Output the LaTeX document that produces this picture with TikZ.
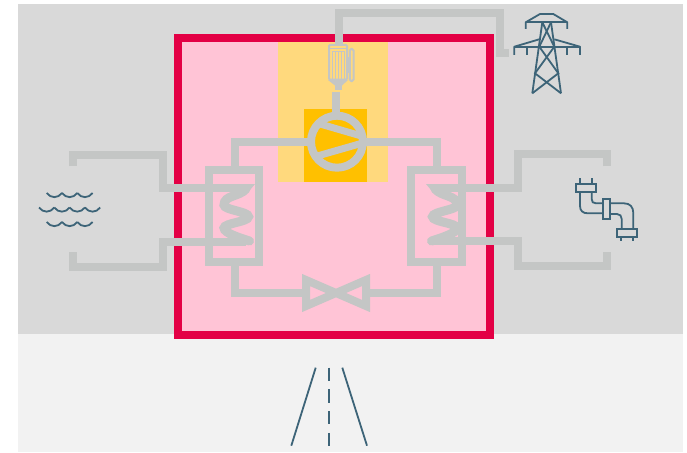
\documentclass[tikz,border=0pt]{standalone}
\usepackage{xcolor}
\usepackage{tikz}
\definecolor{zonegray}{HTML}{D9D9D9}
\definecolor{zonelight}{HTML}{F2F2F2}
\definecolor{framered}{HTML}{E30045}
\definecolor{framepink}{HTML}{FFC4D6}
\definecolor{unitpale}{HTML}{FFD97D}
\definecolor{unitorange}{HTML}{FFC000}
\definecolor{pipegray}{HTML}{C4C6C5}
\definecolor{icondark}{HTML}{3D6478}
\tikzset{
    pipe/.style={draw=pipegray, line width=8pt, miter limit=10},
    motorline/.style={draw=pipegray, line width=2pt},
    iconline/.style={draw=icondark, line width=1.8pt},
    coilline/.style={draw=pipegray, line width=9pt, line cap=round}
}
% one heat exchanger coil, drawn for the left unit
\newcommand{\coilpath}{
    \fill[pipegray] (255,184) -- (236,184) -- (236,192) -- (250,190) -- cycle;
    \draw[coilline] (246,189) .. controls (239,197) and (224,195) .. (224,205)
        .. controls (224,210) and (248.5,211.5) .. (248.5,216.7)
        .. controls (248.5,222) and (224,223) .. (224,228)
        .. controls (224,233) and (240,238) .. (249.5,241);
}
\begin{document}
\begin{tikzpicture}[x=1pt, y=-1pt]
    \useasboundingbox (0,0) rectangle (687,452);

    % zones
    \fill[zonegray] (18,4) rectangle (683,334);
    \fill[zonelight] (18,334) rectangle (683,452);

    % machine room
    \draw[framered, fill=framepink, line width=8pt] (178,38.5) rectangle (490,334.7);
    \fill[unitpale] (278.3,42.5) rectangle (388.3,181.7);
    \fill[unitorange] (304,109) rectangle (367,181.7);

    % power line
    \draw[pipe] (339,44) -- (339,13) -- (500,13) -- (500,53) -- (509,53);

    % motor
    \draw[motorline, rounded corners=1pt] (329,45) -- (347,45) -- (347,79.5) -- (329,79.5) -- cycle;
    \fill[pipegray] (328,80) -- (348,80) -- (342,85.5) -- (335,85.5) -- cycle;
    \draw[motorline, rounded corners=1.5pt] (349.8,49) rectangle (353.5,81);
    \fill[pipegray] (347.5,57) rectangle (349.5,73);
    \fill[pipegray] (335,85) rectangle (341.5,90);
    \foreach \x in {332.5,335.5,338.5,341.5,344.5} {
        \draw[pipegray, line width=1pt] (\x,52) -- (\x,79);
    }
    \draw[pipegray, line width=1pt] (332,52) -- (345,52);
    \draw[pipegray, line width=1pt] (329,49) -- (347,49);

    % compressor
    \draw[pipe] (336,92) -- (336,113);
    \draw[pipe] (234.5,170) -- (234.5,142) -- (312,142);
    \draw[pipe] (437,170) -- (437,142) -- (362,142);
    \begin{scope}
        \clip (337,141.7) circle (28pt);
        \draw[pipe, line width=7pt] (316,122.8) -- (360,135.6);
        \draw[pipe, line width=7pt] (316,156.4) -- (362,143.2);
    \end{scope}
    \draw[pipe, fill=none] (337,141.7) circle (26pt);

    % heat exchanger boxes
    \draw[pipe] (209,170) rectangle (259.3,262.3);
    \draw[pipe] (411.3,170) rectangle (461.7,262.3);

    % evaporator side
    \draw[pipe] (73,166) -- (73,155) -- (162.7,155) -- (162.7,188) -- (246,188);
    \draw[pipe] (73,252) -- (73,266.5) -- (162.7,266.5) -- (162.7,241.7) -- (246,241.7);
    \coilpath

    % condenser side
    \draw[pipe] (607,166) -- (607,154) -- (518,154) -- (518,188) -- (434,188);
    \draw[pipe] (607,252) -- (607,265.8) -- (518,265.8) -- (518,241) -- (434,241);
    \begin{scope}[xscale=-1, xshift=-681pt]
        \coilpath
    \end{scope}

    % expansion valve
    \draw[pipe] (234.5,262) -- (234.5,293) -- (306,293);
    \draw[pipe] (437,262) -- (437,293) -- (366,293);
    \draw[pipe] (306,280) -- (366,306) -- (366,280) -- (306,306) -- cycle;

    % water
    \foreach \xs/\ys/\n in {46.7/193/3, 39/207.5/4, 46.7/222/3} {
        \foreach \i in {1,...,\n} {
            \pgfmathsetmacro{\xa}{\xs+15.3*(\i-1)}
            \draw[iconline] (\xa,\ys) .. controls (\xa+4,\ys+5.5) and (\xa+11.3,\ys+5.5) .. (\xa+15.3,\ys);
        }
    }

    % pylon
    \draw[iconline, line join=round] (525.7,29) -- (525.7,22.3) -- (540,14) -- (553.3,14) -- (567.3,22.3) -- (567.3,29);
    \draw[iconline] (525.7,22.3) -- (567.3,22.3);
    \draw[iconline, line join=round] (514.3,55) -- (514.3,46.7) -- (539.3,39.3);
    \draw[iconline, line join=round] (580,55) -- (580,46.7) -- (554.3,39.3);
    \draw[iconline] (514.3,46.7) -- (580,46.7);
    \foreach \x in {526.7,567.3} {
        \draw[iconline] (\x,46.7) -- (\x,55);
    }
    \draw[iconline] (542.3,22.3) -- (532.3,93.3);
    \draw[iconline] (551,22.3) -- (561,93.3);
    \draw[iconline] (542.3,22.3) -- (554.3,46.7) -- (535,73.3) -- (561,93.3);
    \draw[iconline] (551,22.3) -- (539.3,46.7) -- (558.3,73.3) -- (532.3,93.3);

    % pipe fitting
    \draw[iconline] (580,178) -- (580,184);
    \draw[iconline] (591.7,178) -- (591.7,184);
    \draw[iconline] (576,184) rectangle (596,191.7);
    \draw[iconline] (580,191.7) -- (580,206) .. controls (580,211) and (583,213.3) .. (588,213.3) -- (602.7,213.3);
    \draw[iconline] (591.7,191.7) -- (591.7,199) .. controls (591.7,202) and (593,203.3) .. (596,203.3) -- (602.7,203.3);
    \draw[iconline] (602.7,199) rectangle (610.3,219.3);
    \draw[iconline] (610.3,203.3) -- (624,203.3) .. controls (630,203.3) and (633.3,207) .. (633.3,213) -- (633.3,228.7);
    \draw[iconline] (610.3,214) -- (617,214) .. controls (620,214) and (621.7,216) .. (621.7,219) -- (621.7,228.7);
    \draw[iconline] (617,228.7) rectangle (637,236.7);
    \draw[iconline] (621,236.7) -- (621,241);
    \draw[iconline] (633,236.7) -- (633,241);

    % road
    \draw[iconline] (315.7,367.7) -- (291.3,445.7);
    \draw[iconline] (342.3,367.7) -- (367,445.7);
    \draw[iconline, dash pattern=on 13.3pt off 8.4pt] (329,367.7) -- (329,445.7);
\end{tikzpicture}
\end{document}
